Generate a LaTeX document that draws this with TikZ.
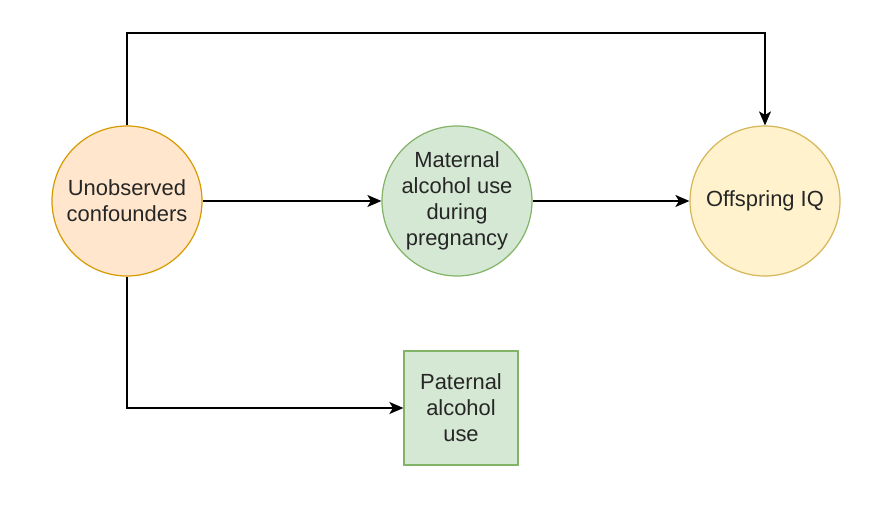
\documentclass[tikz,border=0pt]{standalone}
\usepackage{fontspec}
\setmainfont{Liberation Sans}
\usetikzlibrary{arrows.meta}
\definecolor{orfill}{HTML}{FFE6CC}
\definecolor{ordraw}{HTML}{D79B00}
\definecolor{grfill}{HTML}{D5E8D4}
\definecolor{grdraw}{HTML}{82B366}
\definecolor{yefill}{HTML}{FFF2CC}
\definecolor{yedraw}{HTML}{D6B656}
\begin{document}
\begin{tikzpicture}[x=1bp,y=-1bp,
  every node/.style={font=\fontsize{22}{26}\selectfont, text=black!85, align=center, inner sep=0pt},
  circ/.style={circle, minimum size=150bp, line width=1.2bp},
  conn/.style={line width=1.4bp, -{Stealth[length=14bp,width=12bp,inset=3.5bp]}}]
\useasboundingbox (0,0) rectangle (894,522);
\fill[white] (0,0) rectangle (894,522);
\node[circ, fill=orfill, draw=ordraw] (u) at (127,201) {Unobserved\\confounders};
\node[circ, fill=grfill, draw=grdraw] (m) at (457,201) {Maternal\\alcohol use\\during\\pregnancy};
\node[circ, fill=yefill, draw=yedraw] (o) at (765,201) {Offspring IQ};
\node[draw=grdraw, fill=grfill, line width=1.2bp, minimum width=114bp, minimum height=114bp] (p) at (461,408) {Paternal\\alcohol\\use};
\coordinate (t1) at (127,33);
\coordinate (t2) at (765,33);
\coordinate (b1) at (127,408);
\draw[conn] (u.north) -- (t1) -- (t2) -- (o.north);
\draw[conn] (u.east) -- (m.west);
\draw[conn] (m.east) -- (o.west);
\draw[conn] (u.south) -- (b1) -- (p.west);
\end{tikzpicture}
\end{document}
